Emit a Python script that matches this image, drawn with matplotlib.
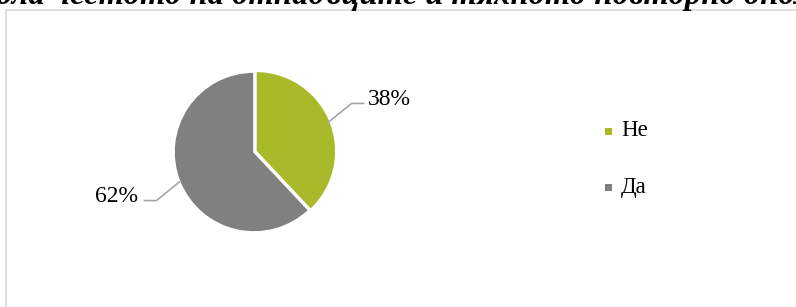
import numpy as np
import matplotlib
matplotlib.use("Agg")
import matplotlib.pyplot as plt
from matplotlib.patches import Rectangle

# data
labels = ["Не", "Да"]
values = [38, 62]
colors = ["#a9b92a", "#808080"]
title = "ола честото на отпадъците и тяхното повторно опол"

plt.rcParams['font.family'] = ['Liberation Serif', 'DejaVu Serif']

W, H = 796, 307
fig = plt.figure(figsize=(W / 100, H / 100), dpi=100)

# chart frame (runs off the right/bottom edge)
fig.patches.append(Rectangle((6 / W, -0.1), 1.0, 1 - 10 / H + 0.1,
                             transform=fig.transFigure, fill=False,
                             edgecolor="#d9d9d9", linewidth=1.2))

# cut off title above the chart
fig.text(-4 / W, 1 - 4 / H, title, fontsize=23.5, fontweight="bold",
         fontstyle="italic", ha="left", va="baseline")

# pie: centre (254,152) px, radius 80 px
cx, cy, r = 254, 152, 80
ax = fig.add_axes([(cx - r) / W, (H - cy - r) / H, 2 * r / W, 2 * r / H])
wedges, _ = ax.pie(values, colors=colors, startangle=90, counterclock=False,
                   explode=[0.025, 0],
                   wedgeprops=dict(edgecolor="white", linewidth=1.2))
ax.set_xlim(-1, 1)
ax.set_ylim(-1, 1)
ax.set_aspect("equal")
ax.axis("off")

# leader lines and percentage labels
for w, v in zip(wedges, values):
    mid = np.deg2rad((w.theta1 + w.theta2) / 2)
    dx, dy = np.cos(mid), np.sin(mid)
    sx = 1 if dx > 0 else -1
    p0 = (dx * 0.99, dy * 0.99)
    p1 = (sx * 1.22, dy * 1.65)
    p2 = (sx * 1.37, dy * 1.65)
    ax.plot([p0[0], p1[0], p2[0]], [p0[1], p1[1], p2[1]], color="#a6a6a6",
            lw=1.2, clip_on=False)
    gap = 0.05 if sx > 0 else 0.08
    ax.text(p2[0] + sx * gap, p2[1] - 0.02, f"{v}%", fontsize=17,
            ha="left" if sx > 0 else "right", va="baseline", clip_on=False)

# legend
for i, (lab, c) in enumerate(zip(labels, colors)):
    y = 1 - (131 + i * 56) / H
    fig.patches.append(Rectangle((605 / W, y - 3.5 / H), 7 / W, 7 / H,
                                 transform=fig.transFigure, facecolor=c,
                                 edgecolor="none"))
    fig.text(621 / W, y, lab, fontsize=16.5, ha="left", va="center")

fig.savefig("out.png", dpi=100)
